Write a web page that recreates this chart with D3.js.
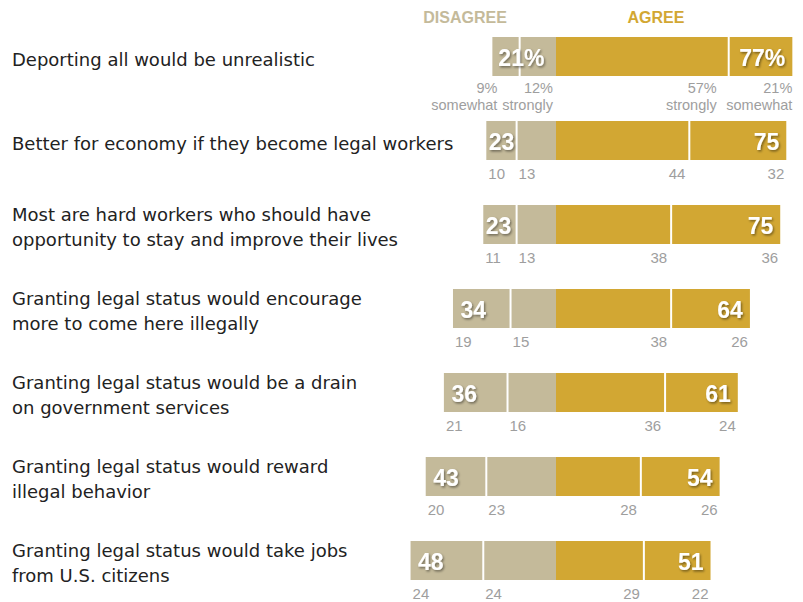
<!DOCTYPE html>
<html>
<head>
<meta charset="utf-8">
<script src="https://cdn.jsdelivr.net/npm/d3@7"></script>
<style>
  html, body { margin: 0; padding: 0; background: #fff; }
  svg { display: block; }
</style>
</head>
<body>
<svg id="chart" width="803" height="602"></svg>
<script>
// ---- data ----
const categories = [
  ["Deporting all would be unrealistic"],
  ["Better for economy if they become legal workers"],
  ["Most are hard workers who should have", "opportunity to stay and improve their lives"],
  ["Granting legal status would encourage", "more to come here illegally"],
  ["Granting legal status would be a drain", "on government services"],
  ["Granting legal status would reward", "illegal behavior"],
  ["Granting legal status would take jobs", "from U.S. citizens"]
];
const disagreeSomewhat = [9, 10, 11, 19, 21, 20, 24];
const disagreeStrongly = [12, 13, 13, 15, 16, 23, 24];
const agreeStrongly    = [57, 44, 38, 38, 36, 28, 29];
const agreeSomewhat    = [21, 32, 36, 26, 24, 26, 22];
const disagreeTotal    = [21, 23, 23, 34, 36, 43, 48];
const agreeTotal       = [77, 75, 75, 64, 61, 54, 51];
const headers = ["DISAGREE", "AGREE"];
const intensity = ["somewhat", "strongly"];

// ---- styles ----
const tan = "#C4BA9A", gold = "#D2A733", grayText = "#9E9E9E", dark = "#222";
const font = "'Liberation Sans', Arial, sans-serif";
const font2 = "'DejaVu Sans', sans-serif";

const svg = d3.select("#chart");
const defs = svg.append("defs");
const f = defs.append("filter").attr("id", "shadow").attr("x", "-20%").attr("y", "-20%").attr("width", "150%").attr("height", "160%");
f.append("feDropShadow").attr("dx", 1.2).attr("dy", 1.5).attr("stdDeviation", 1.3)
  .attr("flood-color", "#000").attr("flood-opacity", 0.45);

const x = d3.scaleLinear().domain([0, 100]).range([556, 556 + 303]);
const xs = v => x(v); // signed value: negative = disagree side
const idx = d3.range(categories.length);
const y = d3.scaleBand().domain(idx).range([37, 580]).paddingInner(45 / 84).paddingOuter(0);
const bw = y.bandwidth();

// headers
svg.append("text").attr("x", x(-30)).attr("y", 23).attr("text-anchor", "middle")
  .attr("font-family", font).attr("font-weight", "bold").attr("font-size", 16)
  .attr("fill", tan).text(headers[0]);
svg.append("text").attr("x", x(33)).attr("y", 23).attr("text-anchor", "middle")
  .attr("font-family", font).attr("font-weight", "bold").attr("font-size", 16)
  .attr("fill", gold).text(headers[1]);

const rows = svg.selectAll("g.row").data(idx).join("g").attr("class", "row");

// category labels
rows.each(function (i) {
  const g = d3.select(this);
  const lines = categories[i];
  const c = y(i) + bw / 2;
  const t = g.append("text").attr("font-family", font2).attr("font-size", 18).attr("fill", dark);
  if (lines.length === 1) {
    t.append("tspan").attr("x", 12).attr("y", c + 9.5).text(lines[0]);
  } else {
    t.append("tspan").attr("x", 12).attr("y", c - 3.5).text(lines[0]);
    t.append("tspan").attr("x", 12).attr("y", c + 21.5).text(lines[1]);
  }
});

// segments
rows.each(function (i) {
  const g = d3.select(this);
  const top = y(i);
  const dS = disagreeStrongly[i], dW = disagreeSomewhat[i];
  const aS = agreeStrongly[i], aW = agreeSomewhat[i];
  const segs = [
    { a: -(dS + dW), b: -dS, c: tan },
    { a: -dS, b: 0, c: tan },
    { a: 0, b: aS, c: gold },
    { a: aS, b: aS + aW, c: gold }
  ];
  g.selectAll("rect").data(segs).join("rect")
    .attr("x", d => xs(d.a)).attr("y", top)
    .attr("width", d => xs(d.b) - xs(d.a)).attr("height", bw)
    .attr("fill", d => d.c);
  // white dividers
  [-dS, aS].forEach(v => {
    g.append("line").attr("x1", xs(v)).attr("x2", xs(v)).attr("y1", top).attr("y2", top + bw)
      .attr("stroke", "#fff").attr("stroke-width", 2);
  });

  // big labels
  const dLeft = xs(-(dS + dW));
  const aRight = xs(aS + aW);
  const pct = i === 0 ? "%" : "";
  const off = disagreeTotal[i] < 25 ? (i === 0 ? 6 : 2.5) : 7.5;
  g.append("text").attr("x", dLeft + off).attr("y", top + bw / 2 + 9)
    .attr("font-family", font).attr("font-weight", "bold").attr("font-size", 23)
    .attr("fill", "#fff").attr("filter", "url(#shadow)")
    .text(disagreeTotal[i] + pct);
  g.append("text").attr("x", aRight - 7).attr("y", top + bw / 2 + 9).attr("text-anchor", "end")
    .attr("font-family", font).attr("font-weight", "bold").attr("font-size", 23)
    .attr("fill", "#fff").attr("filter", "url(#shadow)")
    .text(agreeTotal[i] + pct);

  // small gray labels
  const sy = top + bw + 19;
  const small = (xx, yy, anchor, txt) => g.append("text").attr("x", xx).attr("y", yy)
    .attr("text-anchor", anchor).attr("font-family", font).attr("font-size", 15)
    .attr("fill", grayText).text(txt);
  const small2 = (xx, yy, val, word) => {
    const t = g.append("text").attr("text-anchor", "end").attr("font-family", font)
      .attr("font-size", 14.5).attr("fill", grayText);
    t.append("tspan").attr("x", xx).attr("y", yy).text(val + "%");
    t.append("tspan").attr("x", xx).attr("dy", 16.5).text(word);
  };
  if (i === 0) {
    const y1 = top + bw + 17;
    small2(dLeft + 5, y1, dW, intensity[0]);
    small2(xs(0) - 3, y1, dS, intensity[1]);
    small2(xs(aS) - 12, y1, aS, intensity[1]);
    small2(aRight, y1, aW, intensity[0]);
  } else {
    small(dLeft + 2, sy, "start", dW);
    small(xs(-dS) + 2, sy, "start", dS);
    small(xs(aS) - 4, sy, "end", aS);
    small(aRight - 2, sy, "end", aW);
  }
});
</script>
</body>
</html>
